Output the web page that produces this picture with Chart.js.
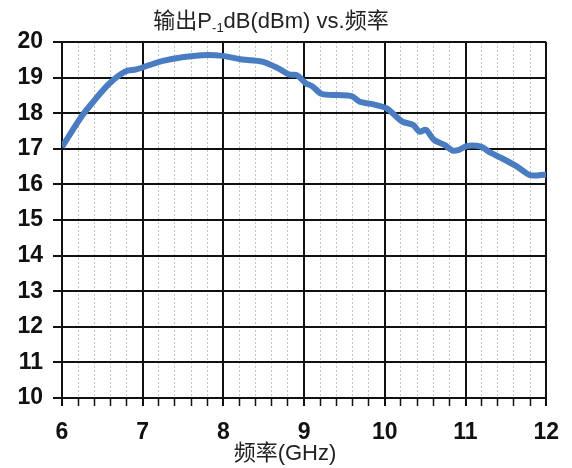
<!DOCTYPE html>
<html>
<head>
<meta charset="utf-8">
<script src="https://cdn.jsdelivr.net/npm/chart.js@4.4.0/dist/chart.umd.min.js"></script>
<style>
  html, body { margin: 0; padding: 0; background: #fff; }
</style>
</head>
<body>
<canvas id="chart" width="572" height="468"></canvas>
<script>
// frequency (GHz) and output P-1dB (dBm)
const freqs = [6.0, 6.24, 6.39, 6.59, 6.78, 6.92, 7.08, 7.25, 7.49, 7.74,
               7.99, 8.23, 8.48, 8.68, 8.81, 8.91, 9.02, 9.10, 9.22, 9.42,
               9.59, 9.69, 9.83, 10.02, 10.12, 10.22, 10.35, 10.43, 10.51, 10.61,
               10.74, 10.84, 10.92, 11.02, 11.19, 11.31, 11.48, 11.64, 11.80, 12.0];
const p1db = [17.05, 17.90, 18.33, 18.84, 19.17, 19.23, 19.35, 19.47, 19.57, 19.63,
              19.61, 19.51, 19.45, 19.26, 19.09, 19.07, 18.84, 18.76, 18.54, 18.51,
              18.48, 18.32, 18.26, 18.14, 17.95, 17.76, 17.67, 17.48, 17.53, 17.25,
              17.11, 16.95, 16.97, 17.08, 17.06, 16.89, 16.70, 16.50, 16.26, 16.28];

const xRange = [6, 12];
const yRange = [10, 20];
const chartTitle = ['输出P', '-1', 'dB(dBm) vs.频率'];
const xTitle = '频率(GHz)';

const FONT = '"Liberation Sans", Arial, "Noto Sans CJK SC", sans-serif';
const isMajor = v => Math.abs(v - Math.round(v)) < 1e-6;

const titles = {
    id: 'titles',
    afterDraw(chart) {
        const ctx = chart.ctx;
        ctx.save();
        ctx.fillStyle = '#222';
        ctx.textBaseline = 'alphabetic';
        // main title, "-1" as a subscript
        const big = '22px ' + FONT, small = '13px ' + FONT;
        ctx.font = big;
        const w0 = ctx.measureText(chartTitle[0]).width;
        const w2 = ctx.measureText(chartTitle[2]).width;
        ctx.font = small;
        const w1 = ctx.measureText(chartTitle[1]).width;
        let x = 271 - (w0 + w1 + w2) / 2;
        const base = 28;
        ctx.font = big;
        ctx.fillText(chartTitle[0], x, base);
        x += w0;
        ctx.font = small;
        ctx.fillText(chartTitle[1], x, base + 4);
        x += w1;
        ctx.font = big;
        ctx.fillText(chartTitle[2], x, base);
        // x axis title
        ctx.font = '22px ' + FONT;
        ctx.textAlign = 'center';
        ctx.textBaseline = 'middle';
        ctx.fillText(xTitle, 285, 454);
        ctx.restore();
    }
};

const points = freqs.map((f, i) => ({x: f, y: p1db[i]}));

new Chart(document.getElementById('chart'), {
    type: 'line',
    data: {
        datasets: [{
            data: points,
            borderColor: '#4a7cc2',
            borderWidth: 6,
            pointRadius: 0,
            tension: 0.3,
            fill: false
        }]
    },
    options: {
        responsive: false,
        animation: false,
        layout: { padding: { top: 42, right: 23, left: 0, bottom: 0 } },
        plugins: {
            legend: { display: false },
            tooltip: { enabled: false },
            title: { display: false }
        },
        scales: {
            x: {
                type: 'linear',
                min: xRange[0],
                max: xRange[1],
                afterFit: s => { s.height = 70; },
                ticks: {
                    stepSize: 0.2,
                    autoSkip: false,
                    maxRotation: 0,
                    padding: 13,
                    color: '#111',
                    font: { family: FONT, size: 23, weight: 'bold' },
                    callback: v => isMajor(v) ? Math.round(v) : ''
                },
                grid: {
                    color: c => (c.tick && !isMajor(c.tick.value)) ? '#c4c4c4' : '#111',
                    lineWidth: c => (c.tick && !isMajor(c.tick.value)) ? 1 : 2,
                    tickColor: '#111',
                    tickWidth: c => (c.tick && !isMajor(c.tick.value)) ? 1.5 : 2,
                    tickLength: 8
                },
                border: {
                    color: '#111',
                    width: 2,
                    dash: c => (c.tick && !isMajor(c.tick.value)) ? [2, 2] : []
                }
            },
            y: {
                min: yRange[0],
                max: yRange[1],
                afterFit: s => { s.width = 62; },
                ticks: {
                    stepSize: 1,
                    padding: 10,
                    color: '#111',
                    font: { family: FONT, size: 23, weight: 'bold' }
                },
                grid: {
                    color: '#111',
                    lineWidth: 2,
                    tickColor: '#111',
                    tickWidth: 2,
                    tickLength: 9
                },
                border: { color: '#111', width: 2 }
            }
        }
    },
    plugins: [titles]
});
</script>
</body>
</html>
